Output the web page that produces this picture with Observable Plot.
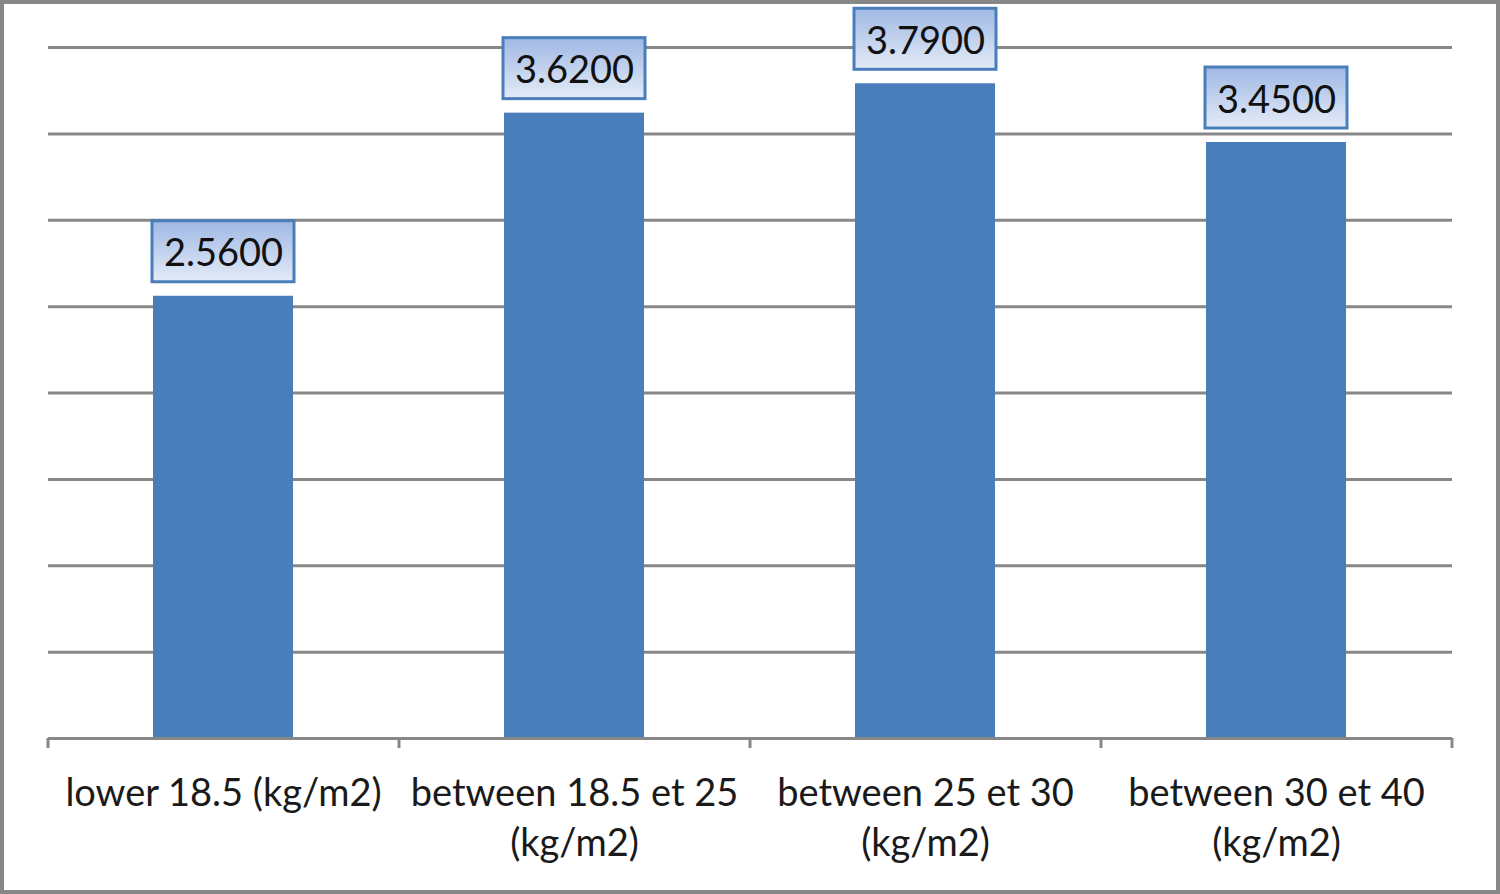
<!DOCTYPE html>
<html>
<head>
<meta charset="utf-8">
<script src="https://cdn.jsdelivr.net/npm/d3@7"></script>
<script src="https://cdn.jsdelivr.net/npm/@observablehq/plot@0.6"></script>
<style>
  html, body { margin: 0; padding: 0; background: #fff; }
  #wrap { position: relative; width: 1500px; height: 894px; }
  #frame { position: absolute; left: 0; top: 0; width: 1500px; height: 894px; box-sizing: border-box; border: 4px solid #878787; pointer-events: none; }
  svg { display: block; }
</style>
</head>
<body>
<div id="wrap"><div id="frame"></div></div>
<script>
const categories = ["lower 18.5 (kg/m2)", "between 18.5 et 25 (kg/m2)", "between 25 et 30 (kg/m2)", "between 30 et 40 (kg/m2)"];
const tickLabels = ["lower 18.5 (kg/m2)", "between 18.5 et 25\n(kg/m2)", "between 25 et 30\n(kg/m2)", "between 30 et 40\n(kg/m2)"];
const values = [2.56, 3.62, 3.79, 3.45];
const gridValues = [0.5, 1, 1.5, 2, 2.5, 3, 3.5, 4];

const data = categories.map((c, i) => ({category: c, value: values[i]}));
const labelOf = new Map(categories.map((c, i) => [c, tickLabels[i]]));

const W = 1500, H = 894, mL = 48, mR = 48, mT = 47, mB = 156;
const step = (W - mL - mR) / categories.length;
const pxPerUnit = (H - mT - mB) / 4;
const tickLen = 10 / pxPerUnit;

const grey = "#878787";
const blue = "#4a7ebb";
const font = "Lato, 'Open Sans', sans-serif";

const chart = Plot.plot({
  width: W,
  height: H,
  marginLeft: mL,
  marginRight: mR,
  marginTop: mT,
  marginBottom: mB,
  style: {fontFamily: font, background: "transparent"},
  x: {domain: categories, paddingInner: 0.6, paddingOuter: 0.3, label: null},
  y: {domain: [0, 4], axis: null},
  marks: [
    Plot.ruleY(gridValues, {stroke: grey, strokeWidth: 3}),
    Plot.barY(data, {x: "category", y: "value", fill: blue}),
    Plot.ruleY([0], {stroke: grey, strokeWidth: 3}),
    Plot.ruleX(categories, {x: d => d, dx: -step / 2, y1: -tickLen, y2: 0, stroke: grey, strokeWidth: 3}),
    Plot.ruleX(categories.slice(-1), {x: d => d, dx: step / 2, y1: -tickLen, y2: 0, stroke: grey, strokeWidth: 3}),
    Plot.axisX({
      tickSize: 0,
      tickPadding: 32,
      fontSize: 38,
      lineHeight: 1.32,
      fill: "#1a1a1a",
      tickFormat: d => labelOf.get(d)
    }),
    Plot.barY(data, {
      x: "category", y1: "value", y2: "value",
      insetTop: -75, insetBottom: 14, insetLeft: -1, insetRight: -1,
      fill: "url(#labelGrad)", stroke: blue, strokeWidth: 3
    }),
    Plot.text(data, {
      x: "category", y: "value",
      text: d => d3.format(".4f")(d.value),
      dy: -42, fontSize: 38, fill: "#111", lineAnchor: "middle"
    })
  ]
});

const svg = d3.select(chart);
const defs = svg.insert("defs", ":first-child");
const grad = defs.append("linearGradient").attr("id", "labelGrad").attr("x1", 0).attr("y1", 0).attr("x2", 0).attr("y2", 1);
grad.append("stop").attr("offset", "0%").attr("stop-color", "#9fb8e4");
grad.append("stop").attr("offset", "100%").attr("stop-color", "#e4ebf7");

document.getElementById("wrap").insertBefore(chart, document.getElementById("frame"));
</script>
</body>
</html>
